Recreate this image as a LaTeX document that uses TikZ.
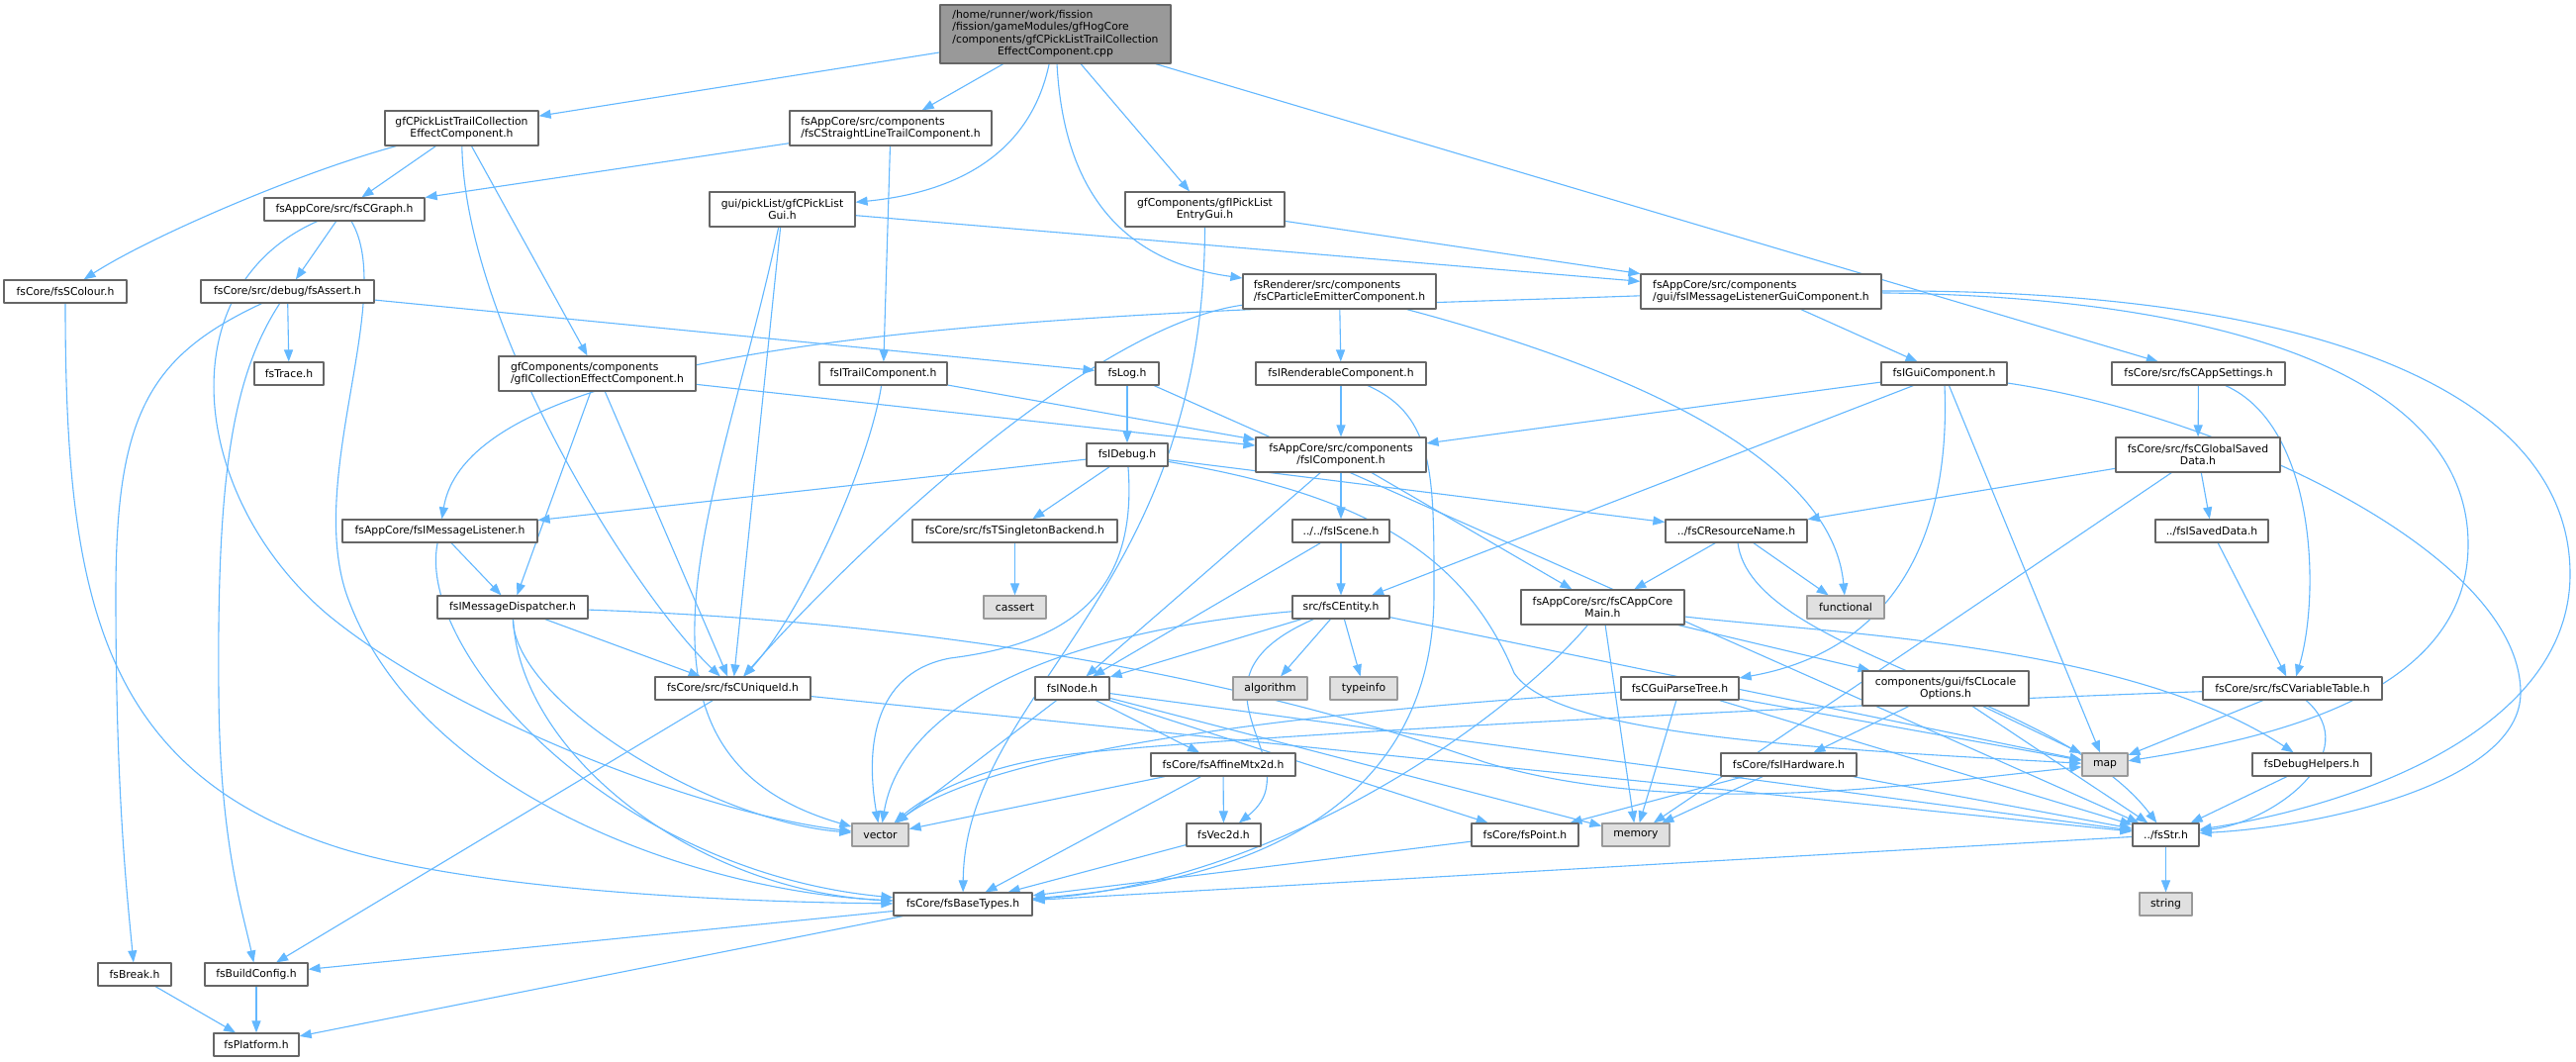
\documentclass[tikz,border=0pt]{standalone}
\usepackage{fontspec}
\setmainfont{DejaVu Sans}
\usetikzlibrary{arrows.meta,backgrounds}
\definecolor{edgeblue}{HTML}{63B8FF}
\definecolor{boxgray}{HTML}{666666}
\definecolor{extgray}{HTML}{999999}
\definecolor{extfill}{HTML}{E0E0E0}
\definecolor{rootfill}{HTML}{999999}
\begin{document}
\begin{tikzpicture}[x=1pt, y=-1pt, line join=round,
	box/.style={draw=boxgray, line width=1.2pt, fill=white, inner sep=0pt, minimum height=23, font=\fontsize{10.8}{12.5}\selectfont, align=center},
	tall/.style={minimum height=35},
	lft/.style={align=left},
	ext/.style={box, draw=extgray, fill=extfill},
	incl/.style={draw=edgeblue, line width=1.1pt, -{Triangle[length=12pt,width=9pt]}}]
	\useasboundingbox (0,0) rectangle (2603,1072);
	% files
	\node[box,minimum width=233,minimum height=59,fill=rootfill] (root) at (1066.5,34.5) {\begin{tabular}{@{}l@{}}/home/runner/work/fission\\/fission/gameModules/gfHogCore\\/components/gfCPickListTrailCollection\\\multicolumn{1}{@{}c@{}}{EffectComponent.cpp}\end{tabular}};
	\node[box,tall,minimum width=155] (A) at (466.5,129.5) {gfCPickListTrailCollection\\EffectComponent.h};
	\node[box,tall,lft,minimum width=204] (SLT) at (900,129.5) {fsAppCore/src/components\\/fsCStraightLineTrailComponent.h};
	\node[box,tall,minimum width=147] (PLG) at (790.5,211.5) {gui/pickList/gfCPickList\\Gui.h};
	\node[box,tall,minimum width=161] (PLE) at (1217.5,211.5) {gfComponents/gfIPickList\\EntryGui.h};
	\node[box,minimum width=162] (CG) at (348,211.5) {fsAppCore/src/fsCGraph.h};
	\node[box,minimum width=124] (SC) at (66,294.5) {fsCore/fsSColour.h};
	\node[box,minimum width=175] (AS) at (290.5,294.5) {fsCore/src/debug/fsAssert.h};
	\node[box,tall,lft,minimum width=195] (PE) at (1353.5,294.5) {fsRenderer/src/components\\/fsCParticleEmitterComponent.h};
	\node[box,tall,lft,minimum width=243] (MLG) at (1779.5,294.5) {fsAppCore/src/components\\/gui/fsIMessageListenerGuiComponent.h};
	\node[box,minimum width=70] (TR) at (292,377.5) {fsTrace.h};
	\node[box,tall,lft,minimum width=199] (ICE) at (603.5,377.5) {gfComponents/components\\/gfICollectionEffectComponent.h};
	\node[box,minimum width=129] (ITC) at (892.5,377.5) {fsITrailComponent.h};
	\node[box,minimum width=64] (LOG) at (1139,377.5) {fsLog.h};
	\node[box,minimum width=172] (IRC) at (1355,377.5) {fsIRenderableComponent.h};
	\node[box,minimum width=127] (IGC) at (1964.5,377.5) {fsIGuiComponent.h};
	\node[box,minimum width=175] (APS) at (2221.5,377.5) {fsCore/src/fsCAppSettings.h};
	\node[box,minimum width=82] (DBG) at (1139,459.5) {fsIDebug.h};
	\node[box,tall,minimum width=172] (IC) at (1355,459.5) {fsAppCore/src/components\\/fsIComponent.h};
	\node[box,tall,minimum width=166] (GSD) at (2221,459.5) {fsCore/src/fsCGlobalSaved\\Data.h};
	\node[box,minimum width=197] (ML) at (444.5,536.5) {fsAppCore/fsIMessageListener.h};
	\node[box,minimum width=207] (TSB) at (1025.5,536.5) {fsCore/src/fsTSingletonBackend.h};
	\node[box,minimum width=98] (SCN) at (1355,536.5) {../../fsIScene.h};
	\node[box,minimum width=143] (RN) at (1754.5,536.5) {../fsCResourceName.h};
	\node[box,minimum width=114] (SD) at (2235,536.5) {../fsISavedData.h};
	\node[box,minimum width=152] (MD) at (518,613.5) {fsIMessageDispatcher.h};
	\node[ext,minimum width=63] (cassert) at (1025.5,613.5) {cassert};
	\node[box,minimum width=98] (ENT) at (1355,613.5) {src/fsCEntity.h};
	\node[box,tall,minimum width=165] (ACM) at (1619.5,613.5) {fsAppCore/src/fsCAppCore\\Main.h};
	\node[ext,minimum width=78] (functional) at (1865,613.5) {functional};
	\node[box,minimum width=157] (UID) at (740.5,695.5) {fsCore/src/fsCUniqueId.h};
	\node[box,minimum width=75] (INODE) at (1083.5,695.5) {fsINode.h};
	\node[ext,minimum width=75] (algorithm) at (1283.5,695.5) {algorithm};
	\node[ext,minimum width=68] (typeinfo) at (1378,695.5) {typeinfo};
	\node[box,minimum width=119] (GPT) at (1697.5,695.5) {fsCGuiParseTree.h};
	\node[box,tall,minimum width=168] (LO) at (1966,695.5) {components/gui/fsCLocale\\Options.h};
	\node[box,minimum width=181] (VT) at (2316.5,695.5) {fsCore/src/fsCVariableTable.h};
	\node[box,minimum width=146] (AFF) at (1236,772.5) {fsCore/fsAffineMtx2d.h};
	\node[box,minimum width=137] (HW) at (1807.5,772.5) {fsCore/fsIHardware.h};
	\node[ext,minimum width=46] (map) at (2127,772.5) {map};
	\node[box,minimum width=120] (DH) at (2336,772.5) {fsDebugHelpers.h};
	\node[ext,minimum width=57] (vector) at (889.5,843.5) {vector};
	\node[box,minimum width=75] (VEC2) at (1236.5,843.5) {fsVec2d.h};
	\node[box,minimum width=108] (PT) at (1541,843.5) {fsCore/fsPoint.h};
	\node[ext,minimum width=68] (memory) at (1653,843.5) {memory};
	\node[box,minimum width=67] (STR) at (2188.5,843.5) {../fsStr.h};
	\node[box,minimum width=140] (BT) at (973,913.5) {fsCore/fsBaseTypes.h};
	\node[ext,minimum width=53] (string) at (2188.5,913.5) {string};
	\node[box,minimum width=74] (BREAK) at (136,984.5) {fsBreak.h};
	\node[box,minimum width=104] (BC) at (259,984.5) {fsBuildConfig.h};
	\node[box,minimum width=86] (PLAT) at (259,1055.5) {fsPlatform.h};
	% includes
	\begin{scope}[on background layer]
	\fill[white] (0,0) rectangle (2603,1072);
	\draw[incl] (root) -- (A);
	\draw[incl] (root) -- (SLT);
	\draw[incl] (root) .. controls (1040,160) and (960,195) .. (PLG);
	\draw[incl] (root) .. controls (1075,200) and (1140,265) .. (PE);
	\draw[incl] (root) -- (PLE);
	\draw[incl] (root) -- (APS);
	\draw[incl] (A) .. controls (300,175) and (150,240) .. (SC);
	\draw[incl] (A) -- (CG);
	\draw[incl] (A) .. controls (470,330) and (640,600) .. (UID);
	\draw[incl] (A) -- (ICE);
	\draw[incl] (SLT) -- (CG);
	\draw[incl] (SLT) -- (ITC);
	\draw[incl] (PLG) -- (MLG);
	\draw[incl] (PLG) -- (UID);
	\draw[incl] (PLG) .. controls (730,500) and (600,760) .. (vector);
	\draw[incl] (PLE) -- (MLG);
	\draw[incl] (PLE) .. controls (1217,600) and (975,700) .. (BT);
	\draw[incl] (CG) -- (AS);
	\draw[incl] (CG) .. controls (170,290) and (190,500) .. (330,620) .. controls (450,720) and (700,820) .. (vector);
	\draw[incl] (CG) .. controls (400,300) and (310,480) .. (350,600) .. controls (420,800) and (700,900) .. (BT);
	\draw[incl] (SC) .. controls (66,600) and (100,780) .. (344,857) .. controls (500,905) and (800,912) .. (BT);
	\draw[incl] (AS) -- (TR);
	\draw[incl] (AS) .. controls (150,360) and (117,420) .. (117,600) .. controls (117,800) and (128,900) .. (BREAK);
	\draw[incl] (AS) .. controls (235,380) and (219,480) .. (221,700) .. controls (222,850) and (245,920) .. (BC);
	\draw[incl] (AS) -- (LOG);
	\draw[incl] (PE) -- (IRC);
	\draw[incl] (PE) .. controls (1100,330) and (860,560) .. (UID);
	\draw[incl] (PE) .. controls (1600,360) and (1850,450) .. (functional);
	\draw[incl] (MLG) .. controls (1200,315) and (480,320) .. (ML);
	\draw[incl] (MLG) -- (IGC);
	\draw[incl] (MLG) .. controls (2250,300) and (2494,380) .. (2494,550) .. controls (2494,700) and (2300,745) .. (map);
	\draw[incl] (MLG) .. controls (2350,292) and (2597,400) .. (2597,580) .. controls (2597,730) and (2400,810) .. (STR);
	\draw[incl] (APS) -- (GSD);
	\draw[incl] (APS) .. controls (2340,430) and (2345,600) .. (VT);
	\draw[incl] (ICE) -- (IC);
	\draw[incl] (ICE) -- (MD);
	\draw[incl] (ICE) -- (UID);
	\draw[incl] (ITC) -- (IC);
	\draw[incl] (ITC) .. controls (878,470) and (810,620) .. (UID);
	\draw[incl] (LOG) -- (DBG);
	\draw[incl] (LOG) -- (STR);
	\draw[incl] (IRC) -- (IC);
	\draw[incl] (IRC) .. controls (1450,420) and (1449,480) .. (1449,600) .. controls (1449,850) and (1200,895) .. (BT);
	\draw[incl] (IGC) -- (IC);
	\draw[incl] (IGC) -- (ENT);
	\draw[incl] (IGC) .. controls (1972,560) and (1900,660) .. (GPT);
	\draw[incl] (IGC) -- (map);
	\draw[incl] (IGC) .. controls (2250,420) and (2547,560) .. (2547,700) .. controls (2547,790) and (2350,835) .. (STR);
	\draw[incl] (DBG) -- (ML);
	\draw[incl] (DBG) -- (TSB);
	\draw[incl] (DBG) .. controls (1150,600) and (1080,650) .. (960,665) .. controls (880,680) and (875,760) .. (vector);
	\draw[incl] (DBG) -- (RN);
	\draw[incl] (DBG) .. controls (1380,500) and (1480,560) .. (1530,680) .. controls (1570,740) and (1800,755) .. (map);
	\draw[incl] (IC) -- (SCN);
	\draw[incl] (IC) -- (ACM);
	\draw[incl] (IC) -- (INODE);
	\draw[incl] (GSD) -- (RN);
	\draw[incl] (GSD) -- (SD);
	\draw[incl] (GSD) -- (memory);
	\draw[incl] (ML) -- (MD);
	\draw[incl] (ML) .. controls (420,660) and (620,880) .. (BT);
	\draw[incl] (TSB) -- (cassert);
	\draw[incl] (SCN) -- (ENT);
	\draw[incl] (SCN) -- (INODE);
	\draw[incl] (RN) -- (ACM);
	\draw[incl] (RN) -- (functional);
	\draw[incl] (RN) .. controls (1770,660) and (2080,700) .. (STR);
	\draw[incl] (SD) -- (VT);
	\draw[incl] (MD) -- (UID);
	\draw[incl] (MD) .. controls (525,760) and (700,900) .. (BT);
	\draw[incl] (MD) .. controls (520,710) and (720,830) .. (vector);
	\draw[incl] (MD) .. controls (1000,630) and (1300,700) .. (1500,770) .. controls (1700,830) and (1950,790) .. (map);
	\draw[incl] (ENT) -- (INODE);
	\draw[incl] (ENT) -- (algorithm);
	\draw[incl] (ENT) -- (typeinfo);
	\draw[incl] (ENT) -- (map);
	\draw[incl] (ENT) .. controls (1050,640) and (910,720) .. (vector);
	\draw[incl] (ENT) .. controls (1180,690) and (1330,770) .. (VEC2);
	\draw[incl] (ACM) -- (LO);
	\draw[incl] (ACM) .. controls (1850,640) and (2150,650) .. (DH);
	\draw[incl] (ACM) -- (memory);
	\draw[incl] (ACM) .. controls (1530,720) and (1300,890) .. (BT);
	\draw[incl] (UID) -- (BC);
	\draw[incl] (UID) -- (STR);
	\draw[incl] (INODE) -- (vector);
	\draw[incl] (INODE) -- (AFF);
	\draw[incl] (INODE) -- (PT);
	\draw[incl] (INODE) -- (memory);
	\draw[incl] (INODE) -- (STR);
	\draw[incl] (GPT) .. controls (1300,720) and (1000,760) .. (vector);
	\draw[incl] (GPT) -- (map);
	\draw[incl] (GPT) -- (memory);
	\draw[incl] (GPT) -- (STR);
	\draw[incl] (LO) -- (HW);
	\draw[incl] (LO) -- (map);
	\draw[incl] (LO) -- (STR);
	\draw[incl] (VT) -- (map);
	\draw[incl] (VT) .. controls (2390,760) and (2300,830) .. (STR);
	\draw[incl] (VT) .. controls (1900,710) and (1300,740) .. (1100,760) .. controls (1000,770) and (940,800) .. (vector);
	\draw[incl] (AFF) -- (vector);
	\draw[incl] (AFF) -- (VEC2);
	\draw[incl] (AFF) -- (BT);
	\draw[incl] (HW) -- (STR);
	\draw[incl] (HW) -- (PT);
	\draw[incl] (HW) -- (memory);
	\draw[incl] (DH) -- (STR);
	\draw[incl] (VEC2) -- (BT);
	\draw[incl] (PT) -- (BT);
	\draw[incl] (STR) -- (BT);
	\draw[incl] (STR) -- (string);
	\draw[incl] (BT) -- (BC);
	\draw[incl] (BT) -- (PLAT);
	\draw[incl] (BC) -- (PLAT);
	\draw[incl] (BREAK) -- (PLAT);
	\end{scope}
\end{tikzpicture}
\end{document}
